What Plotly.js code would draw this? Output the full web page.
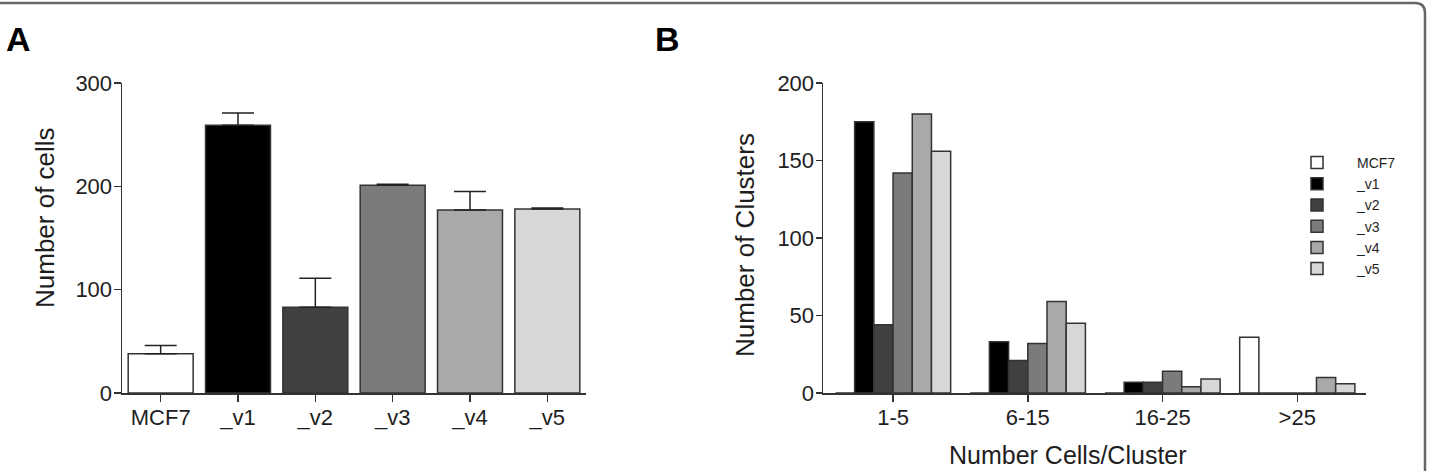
<!DOCTYPE html>
<html>
<head>
<meta charset="utf-8">
<script src="https://cdn.plot.ly/plotly-3.0.1.min.js"></script>
<style>
  html, body { margin: 0; padding: 0; background: #ffffff; }
  #chart { width: 1431px; height: 471px; }
</style>
</head>
<body>
<div id="chart"></div>
<script>
// ---------- Panel A data ----------
const cellLines = ['MCF7', '_v1', '_v2', '_v3', '_v4', '_v5'];
const cellCountMean = [38, 259, 83, 201, 177, 178];
const cellCountErr = [8, 12, 28, 1, 18, 1];

// ---------- Panel B data ----------
const clusterSizeBins = ['1-5', '6-15', '16-25', '>25'];
const seriesNames = ['MCF7', '_v1', '_v2', '_v3', '_v4', '_v5'];
const clustersMCF7 = [0, 0, 0, 36];
const clustersV1 = [175, 33, 7, 0];
const clustersV2 = [44, 21, 7, 0];
const clustersV3 = [142, 32, 14, 0];
const clustersV4 = [180, 59, 4, 10];
const clustersV5 = [156, 45, 9, 6];

const seriesColors = ['#ffffff', '#000000', '#404040', '#7b7b7b', '#a9a9a9', '#d7d7d7'];
const clusterSeries = [clustersMCF7, clustersV1, clustersV2, clustersV3, clustersV4, clustersV5];

const FONT = 'Liberation Sans, Arial, Helvetica, sans-serif';
const TXT = '#1e1e1e';
const AX = '#333333';

const W = 1431, H = 471;
const px = v => v / W;
const py = v => 1 - v / H;

const traces = [];

traces.push({
  type: 'bar',
  x: cellLines,
  y: cellCountMean,
  xaxis: 'x', yaxis: 'y',
  width: 0.84,
  showlegend: false,
  marker: { color: seriesColors, line: { color: AX, width: 1.5 } },
  error_y: {
    type: 'data', symmetric: false,
    array: cellCountErr,
    arrayminus: cellCountErr.map(() => 0),
    color: '#222222', thickness: 1.5, width: 16
  },
  hoverinfo: 'x+y'
});

seriesNames.forEach((name, i) => {
  traces.push({
    type: 'bar',
    name: name,
    legendgroup: name,
    x: clusterSizeBins,
    y: clusterSeries[i],
    xaxis: 'x2', yaxis: 'y2',
    marker: { color: seriesColors[i], line: { color: AX, width: 1.5 } }
  });
});

const yDom = [py(393), py(83)];

const axisCommon = {
  showline: true, linecolor: AX, linewidth: 1.5,
  ticks: 'outside', tickcolor: AX, tickwidth: 1.5,
  showgrid: false, zeroline: false,
  tickfont: { family: FONT, size: 22, color: TXT },
  ticklabelstandoff: -3,
  fixedrange: true
};

const layout = {
  width: W, height: H,
  margin: { l: 0, r: 0, t: 0, b: 0, autoexpand: false },
  paper_bgcolor: '#ffffff', plot_bgcolor: 'rgba(0,0,0,0)',
  barmode: 'group', bargap: 0.145, bargroupgap: 0,
  font: { family: FONT, color: TXT },
  xaxis: Object.assign({}, axisCommon, {
    domain: [px(122), px(586)], anchor: 'y',
    type: 'category', range: [-0.5, 5.5], ticklen: 7
  }),
  yaxis: Object.assign({}, axisCommon, {
    domain: yDom, anchor: 'x',
    range: [0, 300], tickvals: [0, 100, 200, 300], ticklen: 7
  }),
  xaxis2: Object.assign({}, axisCommon, {
    domain: [px(823), px(1366)], anchor: 'y2',
    type: 'category', range: [-0.52, 3.51], ticklen: 7
  }),
  yaxis2: Object.assign({}, axisCommon, {
    domain: yDom, anchor: 'x2',
    range: [0, 200], tickvals: [0, 50, 100, 150, 200], ticklen: 6
  }),
  showlegend: true,
  legend: {
    x: px(1277), y: py(147), xanchor: 'left', yanchor: 'top',
    font: { family: FONT, size: 14, color: TXT },
    itemwidth: 70,
    traceorder: 'grouped', tracegroupgap: 0,
    bgcolor: 'rgba(0,0,0,0)', borderwidth: 0
  },
  annotations: [
    { text: '<b>A</b>', xref: 'paper', yref: 'paper', x: px(4), y: py(39),
      xanchor: 'left', yanchor: 'middle', showarrow: false,
      font: { family: FONT, size: 34, color: '#000' } },
    { text: '<b>B</b>', xref: 'paper', yref: 'paper', x: px(653), y: py(39),
      xanchor: 'left', yanchor: 'middle', showarrow: false,
      font: { family: FONT, size: 34, color: '#000' } },
    { text: 'Number of cells', xref: 'paper', yref: 'paper', x: px(45), y: py(218),
      xanchor: 'center', yanchor: 'middle', textangle: -90, showarrow: false,
      font: { family: FONT, size: 26, color: TXT } },
    { text: 'Number of Clusters', xref: 'paper', yref: 'paper', x: px(745), y: py(245),
      xanchor: 'center', yanchor: 'middle', textangle: -90, showarrow: false,
      font: { family: FONT, size: 26, color: TXT } },
    { text: 'Number Cells/Cluster', xref: 'paper', yref: 'paper', x: px(1068), y: py(455),
      xanchor: 'center', yanchor: 'middle', showarrow: false,
      font: { family: FONT, size: 25, color: TXT } }
  ],
  shapes: [
    { type: 'path', xref: 'paper', yref: 'paper',
      path: 'M 0,' + py(3) + ' L ' + px(1415) + ',' + py(3) +
            ' Q ' + px(1425) + ',' + py(3) + ' ' + px(1425) + ',' + py(13) +
            ' L ' + px(1425) + ',0',
      line: { color: '#666666', width: 2.5 } }
  ]
};

Plotly.newPlot('chart', traces, layout, { displayModeBar: false, staticPlot: true });
</script>
</body>
</html>
